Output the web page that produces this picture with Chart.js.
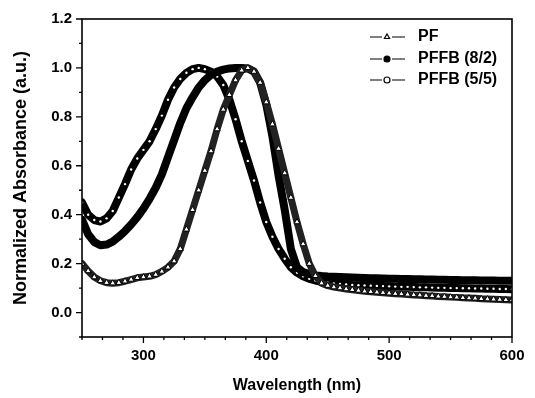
<!DOCTYPE html>
<html>
<head>
<meta charset="utf-8">
<script src="https://cdn.jsdelivr.net/npm/chart.js@4.4.1/dist/chart.umd.min.js"></script>
<style>
  html, body { margin: 0; padding: 0; background: #fff; }
  #wrap { width: 535px; height: 398px; }
</style>
</head>
<body>
<div id="wrap"><canvas id="absChart" width="535" height="398"></canvas></div>
<script>
// wavelength (nm), 5 nm steps
const wavelengths = [
  250, 255, 260, 265, 270, 275, 280, 285, 290, 295,
  300, 305, 310, 315, 320, 325, 330, 335, 340, 345,
  350, 355, 360, 365, 370, 375, 380, 385, 390, 395,
  400, 405, 410, 415, 420, 425, 430, 435, 440, 445,
  450, 455, 460, 465, 470, 475, 480, 485, 490, 495,
  500, 505, 510, 515, 520, 525, 530, 535, 540, 545,
  550, 555, 560, 565, 570, 575, 580, 585, 590, 595, 600
];

const pfValues = [
  0.20, 0.17, 0.145, 0.13, 0.122, 0.12, 0.122, 0.128, 0.135, 0.142,
  0.145, 0.148, 0.155, 0.168, 0.185, 0.21, 0.26, 0.34, 0.42, 0.50,
  0.58, 0.66, 0.75, 0.83, 0.89, 0.95, 0.99, 1.0, 0.985, 0.94,
  0.86, 0.77, 0.67, 0.57, 0.47, 0.37, 0.28, 0.20, 0.15, 0.12,
  0.11, 0.104, 0.10, 0.096, 0.093, 0.09, 0.087, 0.085, 0.083, 0.081,
  0.079, 0.077, 0.076, 0.074, 0.072, 0.071, 0.069, 0.068, 0.066, 0.065,
  0.063, 0.062, 0.06, 0.059, 0.058, 0.056, 0.055, 0.054, 0.053, 0.052, 0.051
];

const pffb82Values = [
  0.38, 0.32, 0.288, 0.275, 0.278, 0.29, 0.31, 0.333, 0.36, 0.39,
  0.425, 0.465, 0.51, 0.565, 0.635, 0.705, 0.775, 0.835, 0.88, 0.92,
  0.95, 0.972, 0.985, 0.993, 0.998, 1.0, 1.0, 0.998, 0.985, 0.94,
  0.85, 0.72, 0.56, 0.42, 0.26, 0.185, 0.165, 0.157, 0.152, 0.149,
  0.147, 0.146, 0.145, 0.144, 0.143, 0.142, 0.141, 0.14, 0.14, 0.139,
  0.138, 0.138, 0.137, 0.137, 0.136, 0.136, 0.135, 0.135, 0.134, 0.134,
  0.133, 0.133, 0.132, 0.132, 0.132, 0.131, 0.131, 0.131, 0.13, 0.13, 0.13
];

const pffb55Values = [
  0.45, 0.40, 0.378, 0.372, 0.385, 0.415, 0.47, 0.525, 0.585, 0.63,
  0.665, 0.70, 0.75, 0.805, 0.87, 0.92, 0.955, 0.98, 0.995, 1.0,
  0.995, 0.985, 0.965, 0.93, 0.87, 0.79, 0.70, 0.62, 0.54, 0.45,
  0.37, 0.31, 0.26, 0.22, 0.185, 0.163, 0.148, 0.138, 0.131, 0.126,
  0.122, 0.119, 0.117, 0.115, 0.113, 0.112, 0.111, 0.11, 0.109, 0.108,
  0.107, 0.106, 0.105, 0.105, 0.104, 0.103, 0.103, 0.102, 0.101, 0.101,
  0.1, 0.1, 0.099, 0.099, 0.098, 0.098, 0.097, 0.097, 0.096, 0.096, 0.095
];

const seriesNames = ['PF', 'PFFB (8/2)', 'PFFB (5/5)'];

const FONT = "'Liberation Sans', Arial, sans-serif";

function toPoints(vals) {
  return wavelengths.map((w, i) => ({ x: w, y: vals[i] }));
}

// box, minor/major tick marks
const frameTicks = {
  id: 'frameTicks',
  afterDraw(chart) {
    const { ctx, chartArea: a, scales: { x, y } } = chart;
    ctx.save();
    ctx.strokeStyle = '#000';
    ctx.lineWidth = 1.6;
    ctx.strokeRect(a.left, a.top, a.right - a.left, a.bottom - a.top);
    ctx.lineWidth = 1.3;
    ctx.beginPath();
    for (let i = 0; i <= 21; i++) {
      const px = x.getPixelForValue(250 + i * 100 / 6);
      const len = (i - 3) % 6 === 0 ? 6 : 3;
      ctx.moveTo(px, a.bottom);
      ctx.lineTo(px, a.bottom + len);
    }
    for (let i = -1; i <= 12; i++) {
      const py = y.getPixelForValue(i / 10);
      const len = i % 2 === 0 ? 6 : 3;
      ctx.moveTo(a.left, py);
      ctx.lineTo(a.left - len, py);
    }
    ctx.stroke();
    ctx.restore();
  }
};

// legend: —marker— label
const legendStyles = [
  { pointStyle: 'triangle', fill: '#fff' },
  { pointStyle: 'circle', fill: '#000' },
  { pointStyle: 'circle', fill: '#fff' }
];

const lineLegend = {
  id: 'lineLegend',
  afterDraw(chart) {
    const ctx = chart.ctx;
    const rows = [37, 59, 80];
    ctx.save();
    chart.data.datasets.forEach((ds, i) => {
      const yy = rows[i];
      ctx.strokeStyle = '#000';
      ctx.lineWidth = 1.2;
      ctx.beginPath();
      ctx.moveTo(370, yy); ctx.lineTo(382, yy);
      ctx.moveTo(392, yy); ctx.lineTo(405, yy);
      ctx.stroke();
      ctx.fillStyle = legendStyles[i].fill;
      Chart.helpers.drawPoint(ctx, {
        pointStyle: legendStyles[i].pointStyle, radius: 3, borderWidth: 1, rotation: 0
      }, 387, yy);
      ctx.fillStyle = '#000';
      ctx.font = 'bold 16px ' + FONT;
      ctx.textBaseline = 'middle';
      ctx.textAlign = 'left';
      ctx.fillText(ds.label, 418, yy);
    });
    ctx.restore();
  }
};

const ctx = document.getElementById('absChart');

new Chart(ctx, {
  type: 'scatter',
  data: {
    datasets: [
      {
        label: seriesNames[0],
        data: toPoints(pfValues),
        showLine: true,
        borderColor: '#222',
        borderWidth: 7,
        borderJoinStyle: 'round',
        borderCapStyle: 'round',
        pointStyle: 'triangle',
        pointRadius: 3.4,
        pointBorderWidth: 1,
        pointBorderColor: '#000',
        pointBackgroundColor: '#fff'
      },
      {
        label: seriesNames[1],
        data: toPoints(pffb82Values),
        showLine: true,
        borderColor: '#000',
        borderWidth: 8,
        borderJoinStyle: 'round',
        borderCapStyle: 'round',
        pointStyle: 'circle',
        pointRadius: 0
      },
      {
        label: seriesNames[2],
        data: toPoints(pffb55Values),
        showLine: true,
        borderColor: '#000',
        borderWidth: 8,
        borderJoinStyle: 'round',
        borderCapStyle: 'round',
        pointStyle: 'circle',
        pointRadius: 1.2,
        pointBorderWidth: 0,
        pointBackgroundColor: '#fff'
      }
    ]
  },
  options: {
    responsive: false,
    animation: false,
    devicePixelRatio: 1,
    layout: { padding: { top: 16, right: 23, left: 0, bottom: 0 } },
    plugins: { legend: { display: false }, tooltip: { enabled: false } },
    scales: {
      x: {
        type: 'linear',
        min: 250,
        max: 600,
        afterFit: (s) => { s.height = 61; },
        grid: { display: false, drawTicks: false },
        border: { display: false },
        ticks: {
          stepSize: 100,
          padding: 10,
          color: '#000',
          font: { family: FONT, size: 15, weight: 'bold' },
          callback: (v) => (v % 100 === 0 ? String(v) : '')
        },
        title: {
          display: true,
          text: 'Wavelength (nm)',
          color: '#000',
          font: { family: FONT, size: 16, weight: 'bold' },
          padding: { top: 0, bottom: 3 }
        }
      },
      y: {
        min: -0.1,
        max: 1.2,
        afterFit: (s) => { s.width = 82; },
        grid: { display: false, drawTicks: false },
        border: { display: false },
        ticks: {
          stepSize: 0.2,
          padding: 10,
          color: '#000',
          font: { family: FONT, size: 15, weight: 'bold' },
          callback: (v) => (v < -0.05 ? '' : v.toFixed(1))
        },
        title: {
          display: true,
          text: 'Normalized Absorbance (a.u.)',
          color: '#000',
          font: { family: FONT, size: 18, weight: 'bold' },
          padding: { top: 10, bottom: 0 }
        }
      }
    }
  },
  plugins: [frameTicks, lineLegend]
});
</script>
</body>
</html>
